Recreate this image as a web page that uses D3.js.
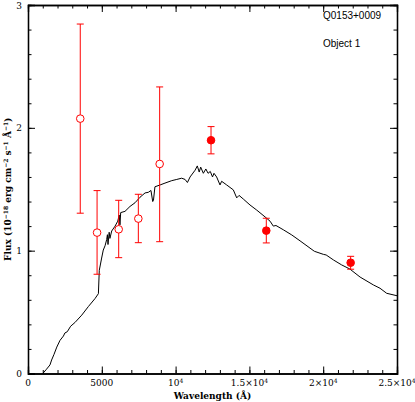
<!DOCTYPE html>
<html>
<head>
<meta charset="utf-8">
<script src="https://cdn.jsdelivr.net/npm/d3@7"></script>
<style>
  body { margin: 0; background: #fff; }
  svg { display: block; }
</style>
</head>
<body>
<svg id="chart"></svg>
<script>
var width = 415,
    height = 402;

// model spectrum (wavelength in A, flux in 1e-18 erg/cm2/s/A)
var specWave = [1000, 1220, 1490, 1600, 1760, 1950, 2170, 2400, 2500, 2660, 2890, 3180, 3640, 4090, 4540, 4770,
  4830, 4990, 5100, 5220, 5330, 5380, 5420, 5500, 5550, 5670, 5900, 6080, 6180, 6230, 6280, 6570, 6910, 7250,
  7590, 7930, 8150, 8330, 8450, 8500, 8600, 8950, 9280, 9740, 10080, 10410, 10640, 10800, 10980, 11320, 11470,
  11600, 11700, 11880, 12050, 12200, 12350, 12500, 12600, 12780, 13010, 13120, 13460, 13910, 14140, 14300,
  14590, 15040, 15500, 16060, 16400, 16620, 16800, 17300, 17870, 18430, 19400, 20010, 20200, 20700, 21250,
  21800, 22500, 23400, 23850, 24300, 25000];
var specFlux = [0, 0.03, 0.07, 0.11, 0.155, 0.215, 0.27, 0.305, 0.33, 0.34, 0.385, 0.415, 0.475, 0.545, 0.61, 0.65,
  0.84, 0.94, 1.005, 1.04, 1.09, 1.13, 1.05, 1.15, 1.10, 1.16, 1.2, 1.24, 1.29, 1.21, 1.31, 1.32, 1.36, 1.39,
  1.435, 1.47, 1.475, 1.49, 1.40, 1.41, 1.52, 1.535, 1.55, 1.57, 1.58, 1.59, 1.58, 1.555, 1.60, 1.655, 1.69,
  1.64, 1.68, 1.63, 1.665, 1.63, 1.645, 1.60, 1.63, 1.60, 1.535, 1.565, 1.535, 1.495, 1.43, 1.45,
  1.42, 1.372, 1.33, 1.275, 1.24, 1.20, 1.205, 1.17, 1.128, 1.08, 0.995, 0.97, 0.965, 0.924, 0.884,
  0.851, 0.785, 0.721, 0.694, 0.653, 0.633];

// photometry, open symbols
var openWave = [3540, 4680, 6145, 7475, 8920];
var openFlux = [2.075, 1.147, 1.174, 1.261, 1.706];
var openLo = [1.305, 0.808, 0.943, 1.065, 1.073];
var openHi = [2.845, 1.489, 1.41, 1.459, 2.333];

// photometry, filled symbols
var fillWave = [12400, 16145, 21860];
var fillFlux = [1.899, 1.163, 0.902];
var fillLo = [1.788, 1.063, 0.849];
var fillHi = [2.01, 1.264, 0.954];

var xTickValues = [0, 5000, 10000, 15000, 20000, 25000];
var xTickLabels = [["0", ""], ["5000", ""], ["10", "4"], ["1.5\u00d710", "4"], ["2\u00d710", "4"], ["2.5\u00d710", "4"]];
var yTickValues = [0, 1, 2, 3];
var titleLines = ["Q0153+0009", "Object 1"];

var x = d3.scaleLinear().domain([0, 25000]).range([28, 397]);
var y = d3.scaleLinear().domain([0, 3]).range([373.5, 5]);

var svg = d3.select("#chart").attr("width", width).attr("height", height);
var serif = "'DejaVu Serif', serif";

// axes: major + minor ticks on every side, pointing inwards
function drawAxis(axisFn, scale, major, minor, transform) {
  svg.append("g").attr("transform", transform)
    .call(axisFn(scale).tickValues(minor).tickSize(-3.5).tickFormat(""));
  svg.append("g").attr("transform", transform)
    .call(axisFn(scale).tickValues(major).tickSize(-7).tickFormat(""));
}
var xMinor = d3.range(0, 25001, 1000);
var yMinor = d3.range(0, 3.001, 0.2);
drawAxis(d3.axisBottom, x, xTickValues, xMinor, "translate(0," + y(0) + ")");
drawAxis(d3.axisTop, x, xTickValues, xMinor, "translate(0," + y(3) + ")");
drawAxis(d3.axisLeft, y, yTickValues, yMinor, "translate(" + x(0) + ",0)");
drawAxis(d3.axisRight, y, yTickValues, yMinor, "translate(" + x(25000) + ",0)");
svg.selectAll(".domain").attr("stroke", "#000").attr("stroke-width", 1.3);
svg.selectAll(".tick line").attr("stroke", "#000").attr("stroke-width", 1);

// x tick labels
var xl = svg.append("g").selectAll("text")
  .data(xTickValues)
  .enter().append("text")
  .attr("x", function(d) { return x(d); })
  .attr("y", 386)
  .attr("text-anchor", "middle")
  .attr("font-family", serif)
  .attr("font-size", 9)
  .attr("fill", "#000");
xl.append("tspan").text(function(d, i) { return xTickLabels[i][0]; });
xl.append("tspan")
  .attr("font-size", 6)
  .attr("dy", -3.5)
  .text(function(d, i) { return xTickLabels[i][1]; });

// y tick labels
svg.append("g").selectAll("text")
  .data(yTickValues)
  .enter().append("text")
  .attr("x", 22)
  .attr("y", function(d) { return y(d) + 3.5; })
  .attr("text-anchor", "end")
  .attr("font-family", serif)
  .attr("font-size", 9)
  .attr("fill", "#000")
  .text(function(d) { return d; });

// axis titles
svg.append("text")
  .attr("x", (x(0) + x(25000)) / 2)
  .attr("y", 399)
  .attr("text-anchor", "middle")
  .attr("font-family", serif)
  .attr("font-weight", "bold")
  .attr("font-size", 9)
  .text("Wavelength (\u00c5)");

var yt = svg.append("text")
  .attr("transform", "translate(11," + ((y(0) + y(3)) / 2) + ") rotate(-90)")
  .attr("text-anchor", "middle")
  .attr("font-family", serif)
  .attr("font-weight", "bold")
  .attr("font-size", 9);
var ytParts = [["Flux (10", 0], ["\u221218", 1], [" erg cm", 0], ["\u22122", 1], [" s", 0], ["\u22121", 1], [" \u00c5", 0], ["\u22121", 1], [")", 0]];
var prevSup = 0;
ytParts.forEach(function(p) {
  yt.append("tspan")
    .attr("font-size", p[1] ? 6 : 9)
    .attr("dy", p[1] === prevSup ? 0 : (p[1] ? -3.5 : 3.5))
    .text(p[0]);
  prevSup = p[1];
});

// annotation
svg.append("g").selectAll("text")
  .data(titleLines)
  .enter().append("text")
  .attr("x", 323)
  .attr("y", function(d, i) { return 19 + i * 28; })
  .attr("font-family", "'Liberation Sans', Arial, sans-serif")
  .attr("font-size", 10)
  .attr("fill", "#000")
  .text(function(d) { return d; });

// spectrum
var specData = specWave.map(function(w, i) { return [w, specFlux[i]]; });
svg.append("path")
  .datum(specData)
  .attr("fill", "none")
  .attr("stroke", "#000")
  .attr("stroke-width", 1)
  .attr("d", d3.line().x(function(d) { return x(d[0]); }).y(function(d) { return y(d[1]); }));

// error bars + points
function drawPoints(wave, flux, lo, hi, filled) {
  var g = svg.append("g").attr("stroke", "#ff0000").attr("stroke-width", 1);
  var pts = wave.map(function(w, i) { return { w: w, f: flux[i], lo: lo[i], hi: hi[i] }; });
  g.selectAll(".bar").data(pts).enter().append("line")
    .attr("x1", function(d) { return x(d.w); })
    .attr("x2", function(d) { return x(d.w); })
    .attr("y1", function(d) { return y(d.lo); })
    .attr("y2", function(d) { return y(d.hi); });
  ["lo", "hi"].forEach(function(k) {
    g.selectAll(".cap-" + k).data(pts).enter().append("line")
      .attr("x1", function(d) { return x(d.w) - 3.5; })
      .attr("x2", function(d) { return x(d.w) + 3.5; })
      .attr("y1", function(d) { return y(d[k]); })
      .attr("y2", function(d) { return y(d[k]); });
  });
  g.selectAll("circle").data(pts).enter().append("circle")
    .attr("cx", function(d) { return x(d.w); })
    .attr("cy", function(d) { return y(d.f); })
    .attr("r", 3.8)
    .attr("fill", filled ? "#ff0000" : "#fff");
}
drawPoints(openWave, openFlux, openLo, openHi, false);
drawPoints(fillWave, fillFlux, fillLo, fillHi, true);
</script>
</body>
</html>
